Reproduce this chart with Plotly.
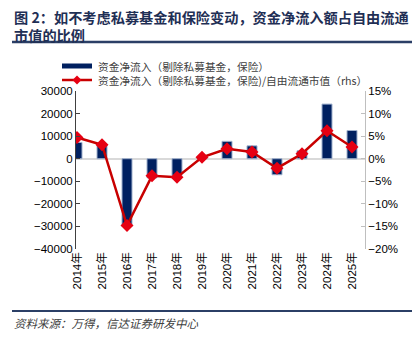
import plotly.graph_objects as go

years = ["2014年", "2015年", "2016年", "2017年", "2018年", "2019年",
         "2020年", "2021年", "2022年", "2023年", "2024年", "2025年"]
net_inflow = [7200, 6500, -30000, -8500, -7400, 500, 7700, 5700, -7100, 3500, 24200, 12500]
ratio_pct = [4.7, 3.1, -14.8, -3.8, -4.1, 0.3, 2.2, 1.5, -2.1, 1.1, 6.2, 2.6]
left_ticks = [-40000, -30000, -20000, -10000, 0, 10000, 20000, 30000]
right_ticks = [-20, -15, -10, -5, 0, 5, 10, 15]

title_line1 = "图 2：如不考虑私募基金和保险变动，资金净流入额占自由流通"
title_line2 = "市值的比例"
legend_bar = "资金净流入（剔除私募基金，保险）"
legend_line = "资金净流入（剔除私募基金，保险)/自由流通市值（rhs）"
source_text = "资料来源：万得，信达证券研发中心"

W, H = 420, 341
L, R, T, B = 76, 55, 91, 92
pw, ph = W - L - R, H - T - B


def px(x):
    return (x - L) / pw


def py(y):
    return (H - B - y) / ph


def fmt_num(v):
    return str(v).replace("-", "\u2212")


NAVY = "#002060"
RED = "#C80000"
RED_M = "#E60012"
TITLE_C = "#1F2F55"
CJK = "Noto Sans CJK SC"
NUM = "Liberation Sans, Arial"

fig = go.Figure()
fig.add_trace(go.Bar(
    x=years, y=net_inflow, width=0.4,
    marker=dict(color=NAVY, line=dict(color="#9FB0CC", width=1)),
    yaxis="y", showlegend=False,
))
fig.add_trace(go.Scatter(
    x=years, y=ratio_pct, mode="lines+markers", yaxis="y2",
    line=dict(color=RED, width=2.5),
    marker=dict(symbol="diamond", size=10, color=RED_M),
    showlegend=False,
))

shapes = []
annotations = []
# title (two lines in one text)
annotations.append(dict(text=f"<b>{title_line1}<br>{title_line2}</b>", x=px(12), y=py(5), xref="paper", yref="paper",
                        xanchor="left", yanchor="top", align="left", showarrow=False,
                        font=dict(family=CJK, size=14.2, color=TITLE_C)))
shapes.append(dict(type="line", xref="paper", yref="paper", x0=px(12), x1=px(412), y0=py(42), y1=py(42),
                   line=dict(color="#2B3F66", width=2.5)))
# legend
shapes.append(dict(type="rect", xref="paper", yref="paper", x0=px(62), x1=px(92), y0=py(63.5), y1=py(68.5),
                   fillcolor=NAVY, line=dict(width=0)))
shapes.append(dict(type="line", xref="paper", yref="paper", x0=px(62), x1=px(92), y0=py(80), y1=py(80),
                   line=dict(color=RED, width=2.5)))
cx, cy, d = 77, 80, 4.5
shapes.append(dict(type="path", xref="paper", yref="paper",
                   path=f"M {px(cx-d)} {py(cy)} L {px(cx)} {py(cy-d)} L {px(cx+d)} {py(cy)} L {px(cx)} {py(cy+d)} Z",
                   fillcolor=RED_M, line=dict(width=0)))
annotations.append(dict(text=legend_bar, x=px(96), y=py(66), xref="paper", yref="paper",
                        xanchor="left", yanchor="middle", showarrow=False,
                        font=dict(family=CJK, size=10.7, color="#404040")))
annotations.append(dict(text=legend_line, x=px(96), y=py(80), xref="paper", yref="paper",
                        xanchor="left", yanchor="middle", showarrow=False,
                        font=dict(family=CJK, size=10.7, color="#404040")))
# footer
shapes.append(dict(type="line", xref="paper", yref="paper", x0=px(12), x1=px(412), y0=py(311), y1=py(311),
                   line=dict(color="#2B3F66", width=2)))
annotations.append(dict(text=f"<i>{source_text}</i>", x=px(12), y=py(323), xref="paper", yref="paper",
                        xanchor="left", yanchor="middle", showarrow=False,
                        font=dict(family=CJK, size=11.5, color="#404040")))

fig.update_layout(
    width=W, height=H, margin=dict(l=L, r=R, t=T, b=B),
    paper_bgcolor="white", plot_bgcolor="white",
    bargap=0.6,
    xaxis=dict(type="category", range=[-0.04, 11.52], showline=False, showgrid=False, ticks="",
               tickangle=-90, tickfont=dict(family=NUM + ", " + CJK, size=11.5, color="#000000")),
    yaxis=dict(range=[-40000, 30000], tickmode="array", tickvals=left_ticks,
               ticktext=[fmt_num(v) for v in left_ticks], showgrid=False,
               showline=True, linecolor="#404040", linewidth=1,
               ticks="inside", ticklen=4, tickcolor="#404040",
               zeroline=True, zerolinecolor="#D9D9D9", zerolinewidth=2,
               tickfont=dict(family=NUM, size=11.5, color="#000000")),
    yaxis2=dict(range=[-20, 15], tickmode="array", tickvals=right_ticks,
                ticktext=[fmt_num(v) + "%" for v in right_ticks], overlaying="y", side="right",
                showgrid=False, zeroline=False, showline=True, linecolor="#BFBFBF", linewidth=1,
                ticks="inside", ticklen=4, tickcolor="#BFBFBF",
                tickfont=dict(family=NUM, size=11.5, color="#000000")),
    shapes=shapes, annotations=annotations,
)

fig.write_html("out.html")
